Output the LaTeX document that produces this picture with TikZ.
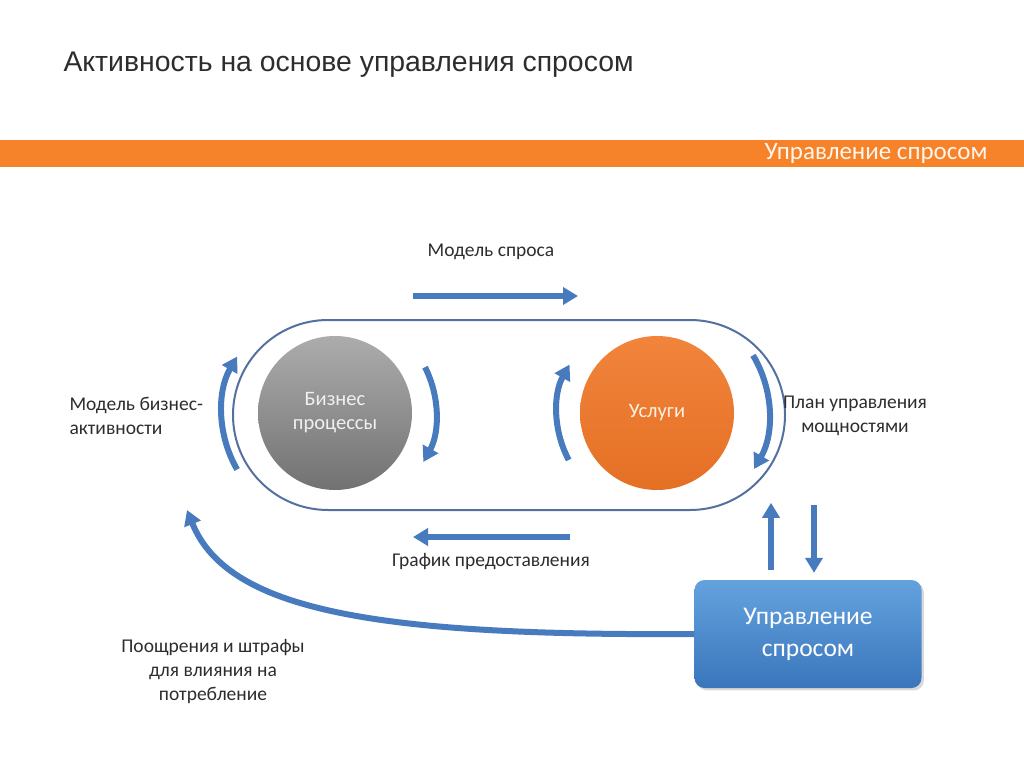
\documentclass[tikz,border=0pt]{standalone}
\usepackage{fontspec}
\setmainfont{Carlito}
\newfontfamily\titlefont{Liberation Sans}
\usepackage{xcolor}
\usetikzlibrary{positioning,calc,arrows.meta,shadows}

\definecolor{flowblue}{RGB}{72,122,190}
\definecolor{loopblue}{RGB}{84,112,160}
\definecolor{barorange}{RGB}{246,131,42}
\definecolor{ballorange}{RGB}{240,118,38}
\definecolor{txtgray}{RGB}{45,45,45}
\definecolor{boxtop}{RGB}{100,162,222}
\definecolor{boxbot}{RGB}{58,118,188}

\begin{document}
\begin{tikzpicture}[x=1pt,y=-1pt,
    flow/.style={draw=flowblue,line width=6pt,-{Triangle[length=15pt,width=17pt]}},
    lbl/.style={text=txtgray,font=\fontsize{19.5}{24}\selectfont,align=center},
    ball/.style={circle,minimum size=154pt,inner sep=0pt,font=\fontsize{20.5}{24}\selectfont,align=center}]
        \path[use as bounding box] (0,0) rectangle (1024,767);

        % title and orange band
        \node[anchor=west,text=txtgray,font=\titlefont\fontsize{28.4}{32}\selectfont] (title) at (60,65) {Активность на основе управления спросом};
        \fill[barorange] (0,140) rectangle (1024,167);
        \node[anchor=east,text={white!92!orange},font=\fontsize{25}{28}\selectfont] (band) at (991,153) {Управление спросом};

        % loop with the two balls
        \node[draw=loopblue,line width=2pt,rounded corners=95pt,minimum width=552pt,minimum height=190pt] (loop) at (509,415) {};
        \node[ball,top color=gray!65,bottom color=gray!95!white!85!black,text=white!88!gray] (biz) at (335,413) {Бизнес\\процессы};
        \node[ball,top color=ballorange!90!white,bottom color=ballorange!95!black,text=white!88!orange] (usl) at (657,413) {Услуги};

        \draw[flow] ($(biz)+(150:113)$) arc[start angle=150,end angle=210,radius=113];
        \draw[flow] ($(biz)+(-27:101)$) arc[start angle=-27,end angle=29,radius=101];
        \draw[flow] ($(usl)+(152:100)$) arc[start angle=152,end angle=209,radius=100];
        \draw[flow] ($(usl)+(-31:112)$) arc[start angle=-31,end angle=30,radius=112];

        \coordinate (topA) at (413,296);
        \coordinate (topB) at (578,296);
        \coordinate (botA) at (570,537);
        \coordinate (botB) at (413,537);
        \draw[flow] (topA) -- (topB);
        \draw[flow] (botA) -- (botB);

        % demand box
        \node[rounded corners=10pt,minimum width=227pt,minimum height=108pt,top color=boxtop,bottom color=boxbot,drop shadow={opacity=0.3},text=white,font=\fontsize{25.5}{32}\selectfont,align=center] (upr) at (808,634) {Управление\\спросом};
        \draw[flow] ($(upr.north)+(-37,-10)$) -- ($(upr.north)+(-37,-77)$);
        \draw[flow] ($(upr.north)+(6,-75)$) -- ($(upr.north)+(6,-7)$);

        \coordinate (tipL) at (187,510);
        \draw[flow] (upr.west) .. controls (380,636) and (228,612) .. (tipL);

        % labels
        \node[lbl] (mspros) at (491,252) {Модель спроса};
        \node[lbl,align=left,anchor=west] (mbiz) at (66,416) {Модель бизнес-\\активности};
        \node[lbl] (plan) at (855,416) {План управления\\мощностями};
        \node[lbl] (graf) at (491,562) {График предоставления};
        \node[lbl] (poos) at (213,671) {Поощрения и штрафы\\для влияния на\\потребление};
    \end{tikzpicture}
\end{document}
